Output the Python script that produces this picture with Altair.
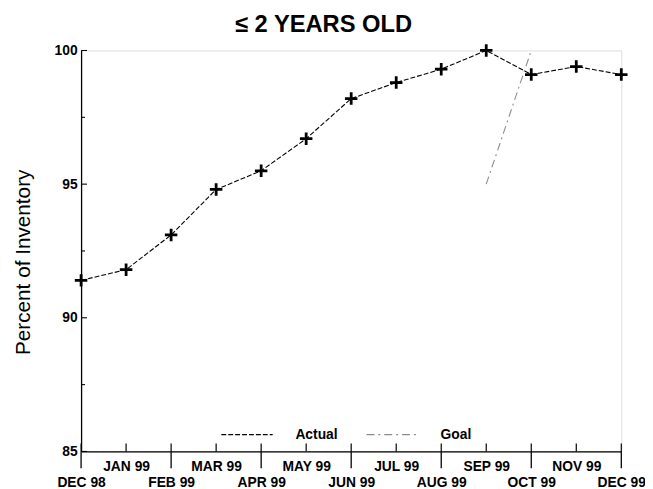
import altair as alt
import pandas as pd

# ---- data ----
months = ["DEC 98", "JAN 99", "FEB 99", "MAR 99", "APR 99", "MAY 99", "JUN 99",
          "JUL 99", "AUG 99", "SEP 99", "OCT 99", "NOV 99", "DEC 99"]
actual = [91.4, 91.8, 93.1, 94.8, 95.5, 96.7, 98.2, 98.8, 99.3, 100.0, 99.1, 99.4, 99.1]
goal_months = ["SEP 99", "OCT 99"]
goal = [95.0, 100.0]
y_major = [85, 90, 95, 100]
y_minor = [87.5, 92.5, 97.5]
series_names = ["Actual", "Goal"]

idx = {m: i for i, m in enumerate(months)}
actual_df = pd.DataFrame({"m": list(range(len(months))), "month": months,
                          "value": actual, "series": "Actual"})
goal_df = pd.DataFrame({"m": [idx[g] for g in goal_months], "month": goal_months,
                        "value": goal, "series": "Goal"})
lines_df = pd.concat([actual_df, goal_df], ignore_index=True)
ticks_df = pd.DataFrame({"m": list(range(len(months)))})
even_df = ticks_df[ticks_df["m"] % 2 == 0]

W, H = 547, 406
FONT = "Liberation Sans"

x_scale = alt.Scale(domain=[0, len(months) - 1], nice=False, zero=False)
y_scale = alt.Scale(domain=[85, 100], nice=False, zero=False)

label_arr = "[" + ",".join("'" + m + "'" for m in months) + "]"
label_expr = (f"datum.value % 2 == 0 ? [' ', {label_arr}[datum.value]] "
              f": {label_arr}[datum.value]")

x_axis = alt.Axis(values=list(range(len(months))), labelExpr=label_expr, ticks=False,
                  grid=False, labelPadding=8, labelFont=FONT, labelFontSize=14,
                  labelFontWeight="bold", labelColor="black", labelLineHeight=16,
                  labelOverlap=False, labelFlush=False, labelBound=False, title=None,
                  domainColor="black", domainWidth=1.3, labelBaseline="top")
y_axis = alt.Axis(values=y_major, ticks=False, grid=False, labelPadding=4,
                  labelFont=FONT, labelFontSize=14, labelFontWeight="bold",
                  labelColor="black", domainColor="black", domainWidth=1.3,
                  title="Percent of Inventory", titleFont=FONT, titleFontSize=21,
                  titleFontWeight="normal", titleColor="black", titleX=-58, titleY=214,
                  titleAngle=270, titleAlign="center", titleBaseline="middle")

legend = alt.Legend(title=None, orient="none", legendX=141, legendY=362,
                    direction="horizontal", symbolType="stroke", symbolSize=2704,
                    symbolStrokeWidth=1.1, labelFont=FONT, labelFontSize=14,
                    labelFontWeight="bold", labelColor="black", labelOffset=22,
                    columnPadding=26)

X = alt.X("m:Q", scale=x_scale, axis=x_axis)
Y = alt.Y("value:Q", scale=y_scale, axis=y_axis)

lines = alt.Chart(lines_df).mark_line(strokeWidth=1.1).encode(
    x=X, y=Y,
    color=alt.Color("series:N", scale=alt.Scale(domain=series_names,
                                                 range=["black", "#8c8c8c"]),
                    legend=legend),
    strokeDash=alt.StrokeDash("series:N",
                              scale=alt.Scale(domain=series_names,
                                              range=[[5, 2], [8, 4, 2, 4]]),
                              legend=legend),
)

cross = "M-1,0L1,0M0,-1L0,1"
points = alt.Chart(actual_df).mark_point(shape=cross, size=160, filled=False,
                                         strokeWidth=2.8, color="black",
                                         opacity=1).encode(x=X, y=Y)

in_ticks = alt.Chart(ticks_df).mark_rule(color="black", strokeWidth=1.2).encode(
    x=X, y=alt.value(H - 8), y2=alt.value(H))
out_ticks = alt.Chart(even_df).mark_rule(color="black", strokeWidth=1.3).encode(
    x=X, y=alt.value(H), y2=alt.value(H + 17))

ymaj = alt.Chart(pd.DataFrame({"value": y_major})).mark_rule(
    color="black", strokeWidth=1.1).encode(y=Y, x=alt.value(0), x2=alt.value(6))
ymin = alt.Chart(pd.DataFrame({"value": y_minor})).mark_rule(
    color="black", strokeWidth=1.1).encode(y=Y, x=alt.value(0), x2=alt.value(4))

chart = alt.layer(lines, points, in_ticks, out_ticks, ymaj, ymin).properties(
    width=W, height=H,
    autosize=alt.AutoSizeParams(type="none"),
    padding={"left": 74, "top": 40, "right": 24, "bottom": 35},
    title=alt.TitleParams("≤ 2 YEARS OLD", font=FONT, fontSize=24, fontWeight="bold",
                          color="black", anchor="middle", dx=-28, offset=2),
).configure_view(stroke="black", strokeWidth=1.3).configure(background="white")

chart.save("out.html", embed_options={"renderer": "svg", "actions": False})
